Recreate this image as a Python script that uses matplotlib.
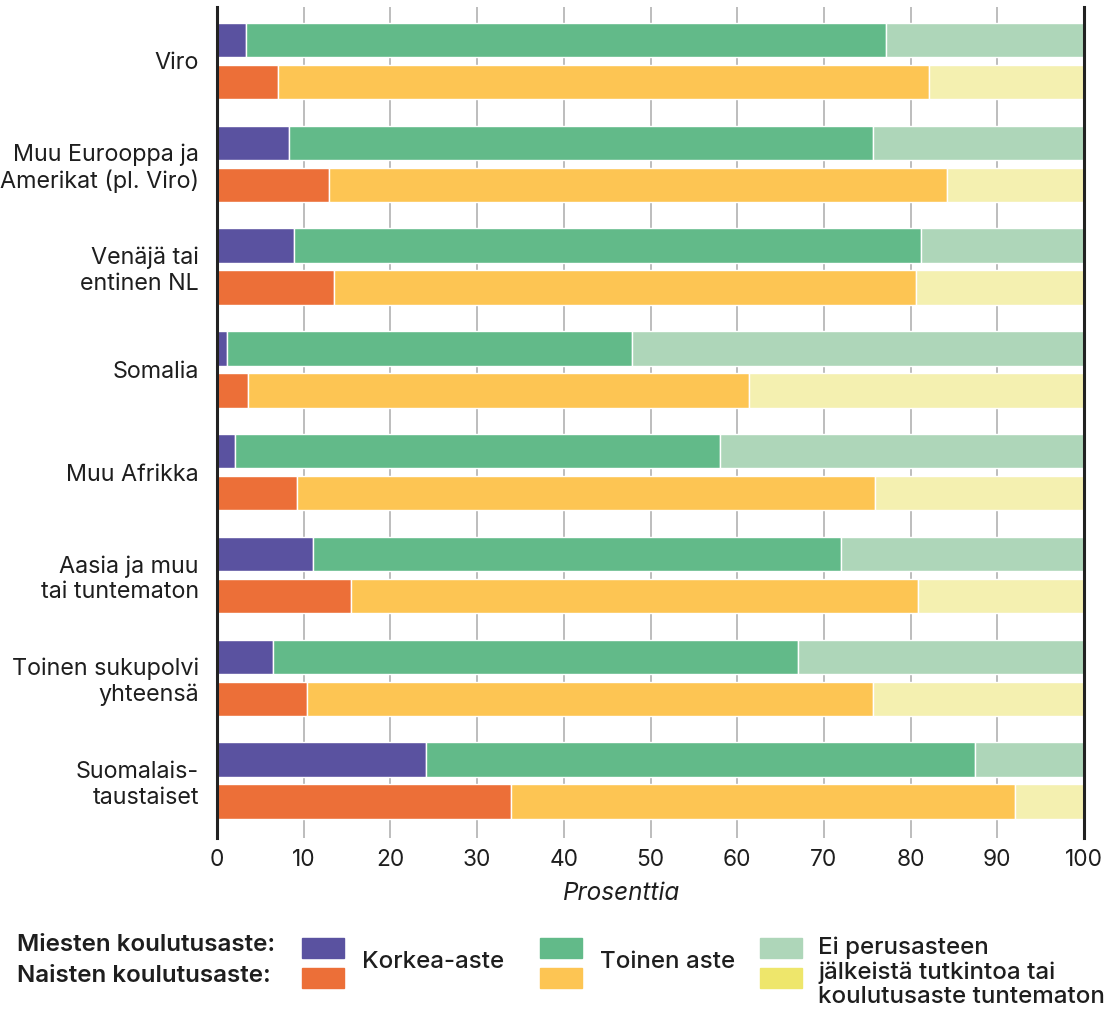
import matplotlib
matplotlib.use("Agg")
import matplotlib.pyplot as plt
from matplotlib.patches import Rectangle
import numpy as np

plt.rcParams['font.family'] = ['Inter', 'DejaVu Sans']

categories = ["Viro", "Muu Eurooppa ja\nAmerikat (pl. Viro)", "Venäjä tai\nentinen NL",
              "Somalia", "Muu Afrikka", "Aasia ja muu\ntai tuntematon",
              "Toinen sukupolvi\nyhteensä", "Suomalais-\ntaustaiset"]

# Men: Korkea-aste, Toinen aste, Ei perusasteen jälkeistä tutkintoa
men_korkea = [3.3, 8.3, 8.9, 1.2, 2.1, 11.1, 6.5, 24.1]
men_toinen = [73.9, 67.4, 72.3, 46.7, 55.9, 60.9, 60.5, 63.3]
men_ei     = [22.8, 24.3, 18.8, 52.1, 42.0, 28.0, 33.0, 12.6]
# Women
women_korkea = [7.0, 12.9, 13.5, 3.6, 9.2, 15.4, 10.4, 33.9]
women_toinen = [75.1, 71.3, 67.1, 57.8, 66.7, 65.5, 65.3, 58.1]
women_ei     = [17.9, 15.8, 19.4, 38.6, 24.1, 19.1, 24.3, 8.0]

xticks = [0, 10, 20, 30, 40, 50, 60, 70, 80, 90, 100]

c_men = ["#5A52A0", "#62BA89", "#AED6B9"]
c_women = ["#EC6F38", "#FDC553", "#F4F0B0"]
c_women_leg_ei = "#EEE66B"
text_c = "#1E1E1E"

W, H = 1116, 1011
fig = plt.figure(figsize=(W / 100, H / 100), dpi=100)

def fx(x):
    return x / W

def fy(y):
    return 1 - y / H

ax = fig.add_axes([fx(217), fy(838), fx(1084) - fx(217), fy(7) - fy(838)])

y = np.arange(len(categories))
off = 0.204
h = 0.335

men = [men_korkea, men_toinen, men_ei]
women = [women_korkea, women_toinen, women_ei]
left = np.zeros(len(categories))
for vals, col in zip(men, c_men):
    ax.barh(y - off, vals, left=left, height=h, color=col, edgecolor="white", linewidth=1.0, zorder=3)
    left = left + np.array(vals)
left = np.zeros(len(categories))
for vals, col in zip(women, c_women):
    ax.barh(y + off, vals, left=left, height=h, color=col, edgecolor="white", linewidth=1.0, zorder=3)
    left = left + np.array(vals)

ax.set_xlim(0, 100)
ax.set_ylim(7.558, -0.525)
ax.set_xticks(xticks)
ax.set_xticklabels([str(t) for t in xticks], fontsize=16.3, color=text_c)
ax.set_yticks(y)
ax.set_yticklabels(categories, fontsize=16.8, color=text_c, linespacing=1.2)
ax.tick_params(axis='both', length=0)
ax.tick_params(axis='y', pad=13)
ax.tick_params(axis='x', pad=8)

for t in xticks[1:-1]:
    ax.axvline(t, color="#BDBDBD", linewidth=1.4, zorder=1)
for s in ["top", "bottom"]:
    ax.spines[s].set_visible(False)
for s in ["left", "right"]:
    ax.spines[s].set_color("#222222")
    ax.spines[s].set_linewidth(2.2)
    ax.spines[s].set_zorder(5)

fig.text(fx(622), fy(893), "Prosenttia", fontsize=17.5, style="italic", ha="center", va="center", color=text_c)

# Legend
fs_leg = 17.4
fig.text(fx(17), fy(945), "Miesten koulutusaste:", fontsize=fs_leg, fontweight="semibold", ha="left", va="center", color=text_c)
fig.text(fx(17), fy(976), "Naisten koulutusaste:", fontsize=fs_leg, fontweight="semibold", ha="left", va="center", color=text_c)

sw, sh = 42, 20
legend_x = [302, 540, 760]
leg_men_cols = c_men
leg_women_cols = [c_women[0], c_women[1], c_women_leg_ei]
for lx, cm, cw in zip(legend_x, leg_men_cols, leg_women_cols):
    fig.add_artist(Rectangle((fx(lx), fy(958)), fx(sw), sh / H, transform=fig.transFigure, color=cm))
    fig.add_artist(Rectangle((fx(lx), fy(988)), fx(sw), sh / H, transform=fig.transFigure, color=cw))

fig.text(fx(362), fy(962), "Korkea-aste", fontsize=fs_leg, fontweight="medium", ha="left", va="center", color=text_c)
fig.text(fx(600), fy(962), "Toinen aste", fontsize=fs_leg, fontweight="medium", ha="left", va="center", color=text_c)
fig.text(fx(818), fy(972), "Ei perusasteen\njälkeistä tutkintoa tai\nkoulutusaste tuntematon",
         fontsize=fs_leg, fontweight="medium", ha="left", va="center", color=text_c, linespacing=1.12)

fig.savefig("out.png", dpi=100)
